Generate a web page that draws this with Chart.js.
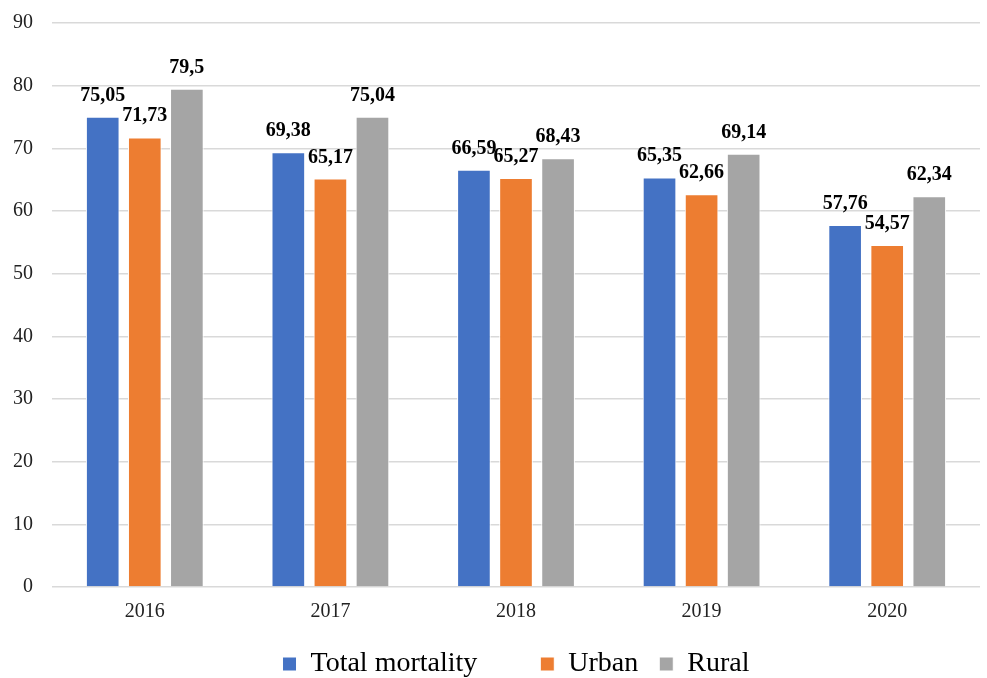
<!DOCTYPE html>
<html>
<head>
<meta charset="utf-8">
<script src="https://cdn.jsdelivr.net/npm/chart.js@4/dist/chart.umd.min.js"></script>
<style>
  html, body { margin: 0; padding: 0; background: #fff; }
  #wrap { width: 987px; height: 678px; }
</style>
</head>
<body>
<div id="wrap"><canvas id="c" width="987" height="678"></canvas></div>
<script>
const years = ['2016', '2017', '2018', '2019', '2020'];
const totalMortality = [75.05, 69.38, 66.59, 65.35, 57.76];
const urban = [71.73, 65.17, 65.27, 62.66, 54.57];
const rural = [79.5, 75.04, 68.43, 69.14, 62.34];
const yTicks = [0, 10, 20, 30, 40, 50, 60, 70, 80, 90];
const seriesNames = ['Total mortality\u00A0\u00A0\u00A0\u00A0\u00A0\u00A0', 'Urban', 'Rural'];

const serif = "'Liberation Serif', 'DejaVu Serif', serif";

// Bold value labels above each bar, decimal comma
const valueLabels = {
  id: 'valueLabels',
  afterDatasetsDraw(chart) {
    const ctx = chart.ctx;
    ctx.save();
    ctx.font = 'bold 20px ' + serif;
    ctx.fillStyle = '#000';
    ctx.textAlign = 'center';
    ctx.textBaseline = 'alphabetic';
    chart.data.datasets.forEach((ds, i) => {
      chart.getDatasetMeta(i).data.forEach((bar, j) => {
        const txt = String(ds.data[j]).replace('.', ',');
        ctx.fillText(txt, bar.x, bar.y - 16);
      });
    });
    ctx.restore();
  }
};

function draw() {
  new Chart(document.getElementById('c'), {
    type: 'bar',
    data: {
      labels: years,
      datasets: [
        { label: seriesNames[0], data: totalMortality, backgroundColor: '#4472c4', borderColor: '#ffffff', borderWidth: 1 },
        { label: seriesNames[1], data: urban, backgroundColor: '#ed7d31', borderColor: '#ffffff', borderWidth: 1 },
        { label: seriesNames[2], data: rural, backgroundColor: '#a5a5a5', borderColor: '#ffffff', borderWidth: 1 }
      ]
    },
    options: {
      responsive: false,
      animation: false,
      devicePixelRatio: 1,
      layout: { padding: { top: 0, right: 7, left: 6, bottom: -10 } },
      datasets: {
        bar: { categoryPercentage: 0.68, barPercentage: 0.8 }
      },
      scales: {
        x: {
          grid: { display: false },
          border: { display: false },
          afterFit(scale) { scale.height = 42; },
          ticks: { color: '#222', font: { family: serif, size: 20 }, padding: 5 }
        },
        y: {
          min: 0,
          max: 90,
          afterBuildTicks(scale) { scale.ticks = yTicks.map(v => ({ value: v })); },
          afterFit(scale) {
            scale.width = 46;
            scale.paddingTop = 23;
            scale.paddingBottom = 12;
          },
          grid: { color: '#d9d9d9', lineWidth: 1.5, drawTicks: false },
          border: { display: false },
          ticks: { color: '#222', font: { family: serif, size: 20 }, padding: 19 }
        }
      },
      plugins: {
        legend: {
          position: 'bottom',
          fullSize: false,
          labels: {
            color: '#000',
            font: { family: serif, size: 28 },
            boxWidth: 14,
            boxHeight: 14,
            padding: 21
          }
        },
        tooltip: { enabled: false }
      }
    },
    plugins: [valueLabels]
  });
}

Promise.all([
  document.fonts.load("20px 'Liberation Serif'"),
  document.fonts.load("bold 20px 'Liberation Serif'")
]).then(draw, draw);
</script>
</body>
</html>
